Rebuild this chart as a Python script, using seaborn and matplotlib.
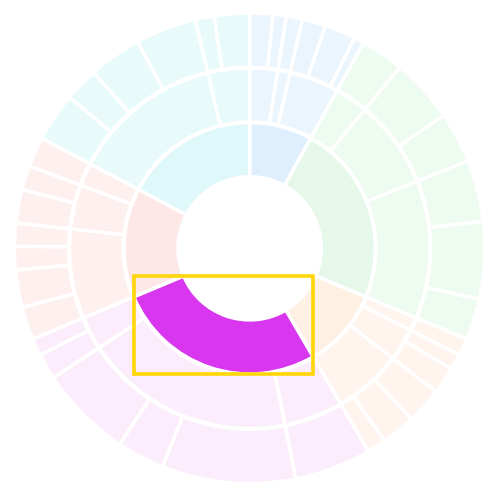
import numpy as np
import pandas as pd
import seaborn as sns
import matplotlib.pyplot as plt
from matplotlib.patches import Rectangle

# anel interno: grupos
grupos = ['azul', 'verde', 'laranja', 'magenta', 'vermelho', 'ciano']

# anel do meio: subgrupos e a que grupo pertencem
subgrupos = ['az1', 'az2', 'az3',
             've1', 've2', 've3',
             'la1', 'la2', 'la3',
             'ma1', 'ma2', 'ma3',
             'vm1', 'vm2', 'vm3',
             'ci1', 'ci2']
grupo_do_sub = ['azul'] * 3 + ['verde'] * 3 + ['laranja'] * 3 + \
               ['magenta'] * 3 + ['vermelho'] * 3 + ['ciano'] * 2

# anel externo: folhas (valor e subgrupo)
folha_sub = ['az1', 'az1', 'az2', 'az3', 'az3', 'az3',
             've1', 've2', 've2', 've3', 've3', 've3',
             'la1', 'la2', 'la2', 'la3', 'la3', 'la3',
             'ma1', 'ma2', 'ma2', 'ma2', 'ma3', 'ma3',
             'vm1', 'vm1', 'vm1', 'vm1', 'vm2', 'vm2', 'vm3',
             'ci1', 'ci1', 'ci1', 'ci1', 'ci2', 'ci2']
folha_valor = [5.7, 3.3, 4.0, 5.8, 7.7, 2.5,
               10.7, 15.9, 12.6, 15.2, 19.1, 10.2,
               4.3, 3.9, 6.7, 8.9, 8.5, 4.7,
               19.0, 33.1, 11.8, 23.0, 6.4, 4.3,
               8.2, 9.2, 5.8, 5.7, 8.3, 6.0, 7.4,
               12.1, 8.4, 13.1, 15.1, 4.7, 8.7]

destaque = 'magenta'

# cores (anel interno / aneis externos)
cor_interna = {'azul': '#e0effe', 'verde': '#e6f8ea', 'laranja': '#fff0e4',
               'magenta': '#d936f0', 'vermelho': '#fee7e7', 'ciano': '#dff8fa'}
cor_externa = {'azul': '#ebf5fe', 'verde': '#eefbf1', 'laranja': '#fff5ee',
               'magenta': '#fcedfd', 'vermelho': '#fff0f0', 'ciano': '#e9fafb'}

# monta as tabelas de cada anel
df_folhas = pd.DataFrame({'sub': folha_sub, 'valor': folha_valor})
df_folhas['grupo'] = df_folhas['sub'].map(dict(zip(subgrupos, grupo_do_sub)))
df_sub = df_folhas.groupby('sub', sort=False)['valor'].sum().reindex(subgrupos).reset_index()
df_sub['grupo'] = grupo_do_sub
df_grupo = df_folhas.groupby('grupo', sort=False)['valor'].sum().reindex(grupos).reset_index()

total = df_folhas['valor'].sum()

sns.set_style('white')
fig = plt.figure(figsize=(5, 5), dpi=100)
# centro um pouco acima do meio, como no original
ax = fig.add_axes([-0.0006, 0.0034, 1, 1], projection='polar')
ax.set_theta_zero_location('N')
ax.set_theta_direction(-1)
ax.set_ylim(0, 250)
ax.axis('off')


def desenha_anel(df, r0, r1, cores):
    inicio = np.concatenate([[0], np.cumsum(df['valor'].values)[:-1]])
    theta = inicio / total * 2 * np.pi
    largura = df['valor'].values / total * 2 * np.pi
    barras = ax.bar(theta, r1 - r0, width=largura, bottom=r0, align='edge',
                    color=[cores[g] for g in df['grupo']],
                    edgecolor='white', linewidth=2.5)
    return barras


barras_int = desenha_anel(df_grupo, 71.6, 125.7, cor_interna)
desenha_anel(df_sub, 126.3, 180.2, cor_externa)
desenha_anel(df_folhas, 181.0, 235.2, cor_externa)

# caixa amarela em volta do grupo destacado
fig.canvas.draw()
barra = barras_int[grupos.index(destaque)]
bb = barra.get_window_extent(fig.canvas.get_renderer())
bb = bb.transformed(fig.transFigure.inverted())
fig.add_artist(Rectangle((bb.x0, bb.y0), bb.width, bb.height, fill=False,
                         edgecolor='#ffd60a', linewidth=2.6,
                         transform=fig.transFigure))

plt.savefig('out.png', dpi=100)
